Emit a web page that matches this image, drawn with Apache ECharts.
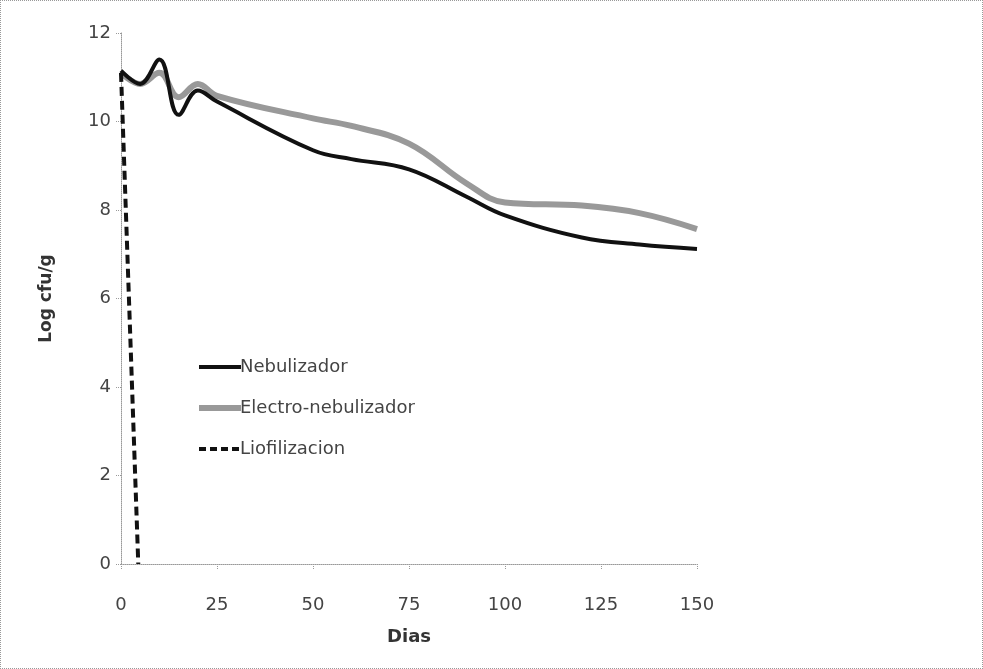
<!DOCTYPE html>
<html>
<head>
<meta charset="utf-8">
<script src="https://cdn.jsdelivr.net/npm/echarts@6/dist/echarts.min.js"></script>
<style>
html,body{margin:0;padding:0;background:#fff;}
#c{width:983px;height:669px;box-sizing:border-box;border:1px dotted #999;}
</style>
</head>
<body>
<div id="c"></div>
<script>
// Days (x) and values (Log cfu/g)
const days = [0, 5, 10, 15, 20, 25, 50, 60, 75, 90, 100, 120, 135, 150];
const nebulizador = [11.15, 10.85, 11.4, 10.15, 10.7, 10.45, 9.35, 9.15, 8.92, 8.3, 7.88, 7.38, 7.22, 7.12];
const electroNebulizador = [11.1, 10.85, 11.1, 10.55, 10.85, 10.58, 10.07, 9.9, 9.5, 8.6, 8.17, 8.1, 7.93, 7.57];
const lioDays = [0, 4.5];
const liofilizacion = [11.1, 0];
const seriesNames = ['Nebulizador', 'Electro-nebulizador', 'Liofilizacion'];
const xTicks = [0, 25, 50, 75, 100, 125, 150];
const yTicks = [0, 2, 4, 6, 8, 10, 12];

const pairs = (xs, ys) => xs.map((x, i) => [x, ys[i]]);
const FONT = 'DejaVu Sans';
const NEB = { color: '#111', width: 4 };
const ELE = { color: '#999', width: 6 };
const LIO = { color: '#111', width: 4, type: [9, 5] };

const chart = echarts.init(document.getElementById('c'));
chart.setOption({
  animation: false,
  backgroundColor: '#fff',
  grid: { left: 120, right: 285, top: 32, bottom: 104 },
  legend: {
    orient: 'vertical', left: 190, top: 352,
    itemWidth: 42, itemHeight: 18, itemGap: 23,
    itemStyle: { opacity: 0 },
    textStyle: { fontFamily: FONT, fontSize: 18, color: '#444', padding: [0, 0, 0, -6] },
    data: [
      { name: seriesNames[0], lineStyle: NEB },
      { name: seriesNames[1], lineStyle: ELE },
      { name: seriesNames[2], lineStyle: { color: '#111', width: 4, type: [7, 4] } }
    ]
  },
  xAxis: {
    type: 'value', min: xTicks[0], max: xTicks[xTicks.length - 1], interval: 25,
    name: 'Dias', nameLocation: 'middle', nameGap: 64,
    nameTextStyle: { fontFamily: FONT, fontSize: 18, fontWeight: 'bold', color: '#333' },
    axisLine: { show: true, lineStyle: { color: '#999', type: 'dotted', width: 1 } },
    axisTick: { show: true, length: 6, lineStyle: { color: '#999', type: 'dotted' } },
    axisLabel: { fontFamily: FONT, fontSize: 18, color: '#444', margin: 32 },
    splitLine: { show: false }
  },
  yAxis: {
    type: 'value', min: yTicks[0], max: yTicks[yTicks.length - 1], interval: 2,
    name: 'Log cfu/g', nameLocation: 'middle', nameGap: 66,
    nameTextStyle: { fontFamily: FONT, fontSize: 17, fontWeight: 'bold', color: '#333' },
    axisLine: { show: true, lineStyle: { color: '#999', type: 'dotted', width: 1 } },
    axisTick: { show: true, length: 6, lineStyle: { color: '#999', type: 'dotted' } },
    axisLabel: { fontFamily: FONT, fontSize: 18, color: '#444', margin: 10 },
    splitLine: { show: false }
  },
  series: [
    {
      name: seriesNames[0], type: 'line', smooth: 0.4, symbol: 'none',
      data: pairs(days, nebulizador), z: 3,
      lineStyle: NEB, itemStyle: { color: NEB.color }
    },
    {
      name: seriesNames[1], type: 'line', smooth: 0.4, symbol: 'none',
      data: pairs(days, electroNebulizador), z: 2,
      lineStyle: ELE, itemStyle: { color: ELE.color }
    },
    {
      name: seriesNames[2], type: 'line', symbol: 'none',
      data: pairs(lioDays, liofilizacion), z: 4,
      lineStyle: LIO, itemStyle: { color: LIO.color }
    }
  ]
});
</script>
</body>
</html>
